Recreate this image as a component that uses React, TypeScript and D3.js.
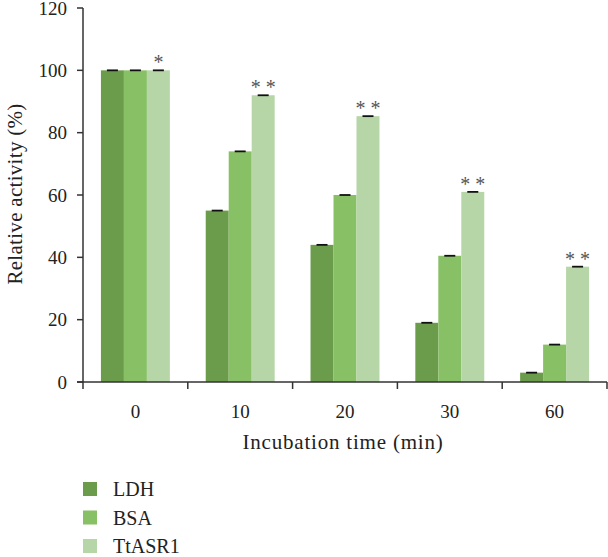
import React from "react";
import * as d3 from "d3";

const categories = ["0", "10", "20", "30", "60"];
const seriesNames = ["LDH", "BSA", "TtASR1"];
const ldh = [100, 55, 44, 19, 3];
const bsa = [100, 74, 60, 40.5, 12];
const ttasr1 = [100, 92, 85.3, 61, 37];
const stars = ["*", "* *", "* *", "* *", "* *"];
const yTicks = [0, 20, 40, 60, 80, 100, 120];
const colors = ["#6b9c4b", "#88c065", "#b6d6a7"];

const W = 608;
const H = 557;
const left = 83;
const right = 607;
const top = 8;
const bottom = 382;
const font = '"Liberation Serif", "DejaVu Serif", serif';

export default function App() {
  const series = [ldh, bsa, ttasr1];
  const x = d3.scaleBand<string>().domain(categories).range([left, right]).padding(0);
  const xs = d3
    .scaleBand<string>()
    .domain(seriesNames)
    .range([0, x.bandwidth()])
    .paddingInner(0)
    .paddingOuter(0.78);
  const y = d3.scaleLinear().domain([0, 120]).range([bottom, top]);
  const boundaries = [...categories.map((c) => x(c) as number), right];
  const txt = { fontFamily: font };

  return (
    <svg
      width={W}
      height={H}
      style={{ position: "absolute", left: 0, top: 0, background: "#fff", fontFamily: font }}
    >
      {series.map((vals, si) =>
        vals.map((v, ci) => (
          <rect
            key={`b${si}-${ci}`}
            x={(x(categories[ci]) as number) + (xs(seriesNames[si]) as number)}
            y={y(v)}
            width={xs.bandwidth()}
            height={bottom - y(v)}
            fill={colors[si]}
          />
        ))
      )}
      {series.map((vals, si) =>
        vals.map((v, ci) => {
          const cx = (x(categories[ci]) as number) + (xs(seriesNames[si]) as number) + xs.bandwidth() / 2;
          return (
            <line
              key={`e${si}-${ci}`}
              x1={cx - 5.5}
              x2={cx + 5.5}
              y1={y(v)}
              y2={y(v)}
              stroke="#111"
              strokeWidth={1.8}
            />
          );
        })
      )}
      {ttasr1.map((v, ci) => {
        const cx = (x(categories[ci]) as number) + (xs("TtASR1") as number) + xs.bandwidth() / 2;
        return (
          <text
            key={`s${ci}`}
            x={cx}
            y={y(v) - 1}
            textAnchor="middle"
            fontSize={20}
            fill="#555"
            style={txt}
          >
            {stars[ci]}
          </text>
        );
      })}
      <line x1={left} x2={left} y1={top} y2={bottom} stroke="#333" strokeWidth={1.5} />
      {yTicks.map((t) => (
        <g key={`yt${t}`}>
          <line x1={left - 6} x2={left} y1={y(t)} y2={y(t)} stroke="#333" strokeWidth={1.5} />
          <text x={67} y={y(t) + 6.5} textAnchor="end" fontSize={19} fill="#222" style={txt}>
            {t}
          </text>
        </g>
      ))}
      <line x1={left - 6} x2={right} y1={bottom} y2={bottom} stroke="#333" strokeWidth={1.5} />
      {boundaries.map((b, i) => (
        <line key={`xt${i}`} x1={b} x2={b} y1={bottom} y2={bottom + 7} stroke="#333" strokeWidth={1.5} />
      ))}
      {categories.map((c) => (
        <text
          key={`xl${c}`}
          x={(x(c) as number) + x.bandwidth() / 2}
          y={418}
          textAnchor="middle"
          fontSize={19}
          fill="#222"
          style={txt}
        >
          {c}
        </text>
      ))}
      <text x={343} y={449} textAnchor="middle" fontSize={21} letterSpacing={0.8} fill="#222" style={txt}>
        Incubation time (min)
      </text>
      <text
        transform={`translate(22, 194) rotate(-90)`}
        textAnchor="middle"
        fontSize={21}
        letterSpacing={0.3}
        fill="#222"
        style={txt}
      >
        Relative activity (%)
      </text>
      {seriesNames.map((n, i) => (
        <g key={`lg${n}`} transform={`translate(83, ${482 + i * 28.5})`}>
          <rect x={0} y={0} width={14} height={14} fill={colors[i]} />
          <text x={30} y={14} fontSize={20} fill="#222" style={txt}>
            {n}
          </text>
        </g>
      ))}
    </svg>
  );
}
